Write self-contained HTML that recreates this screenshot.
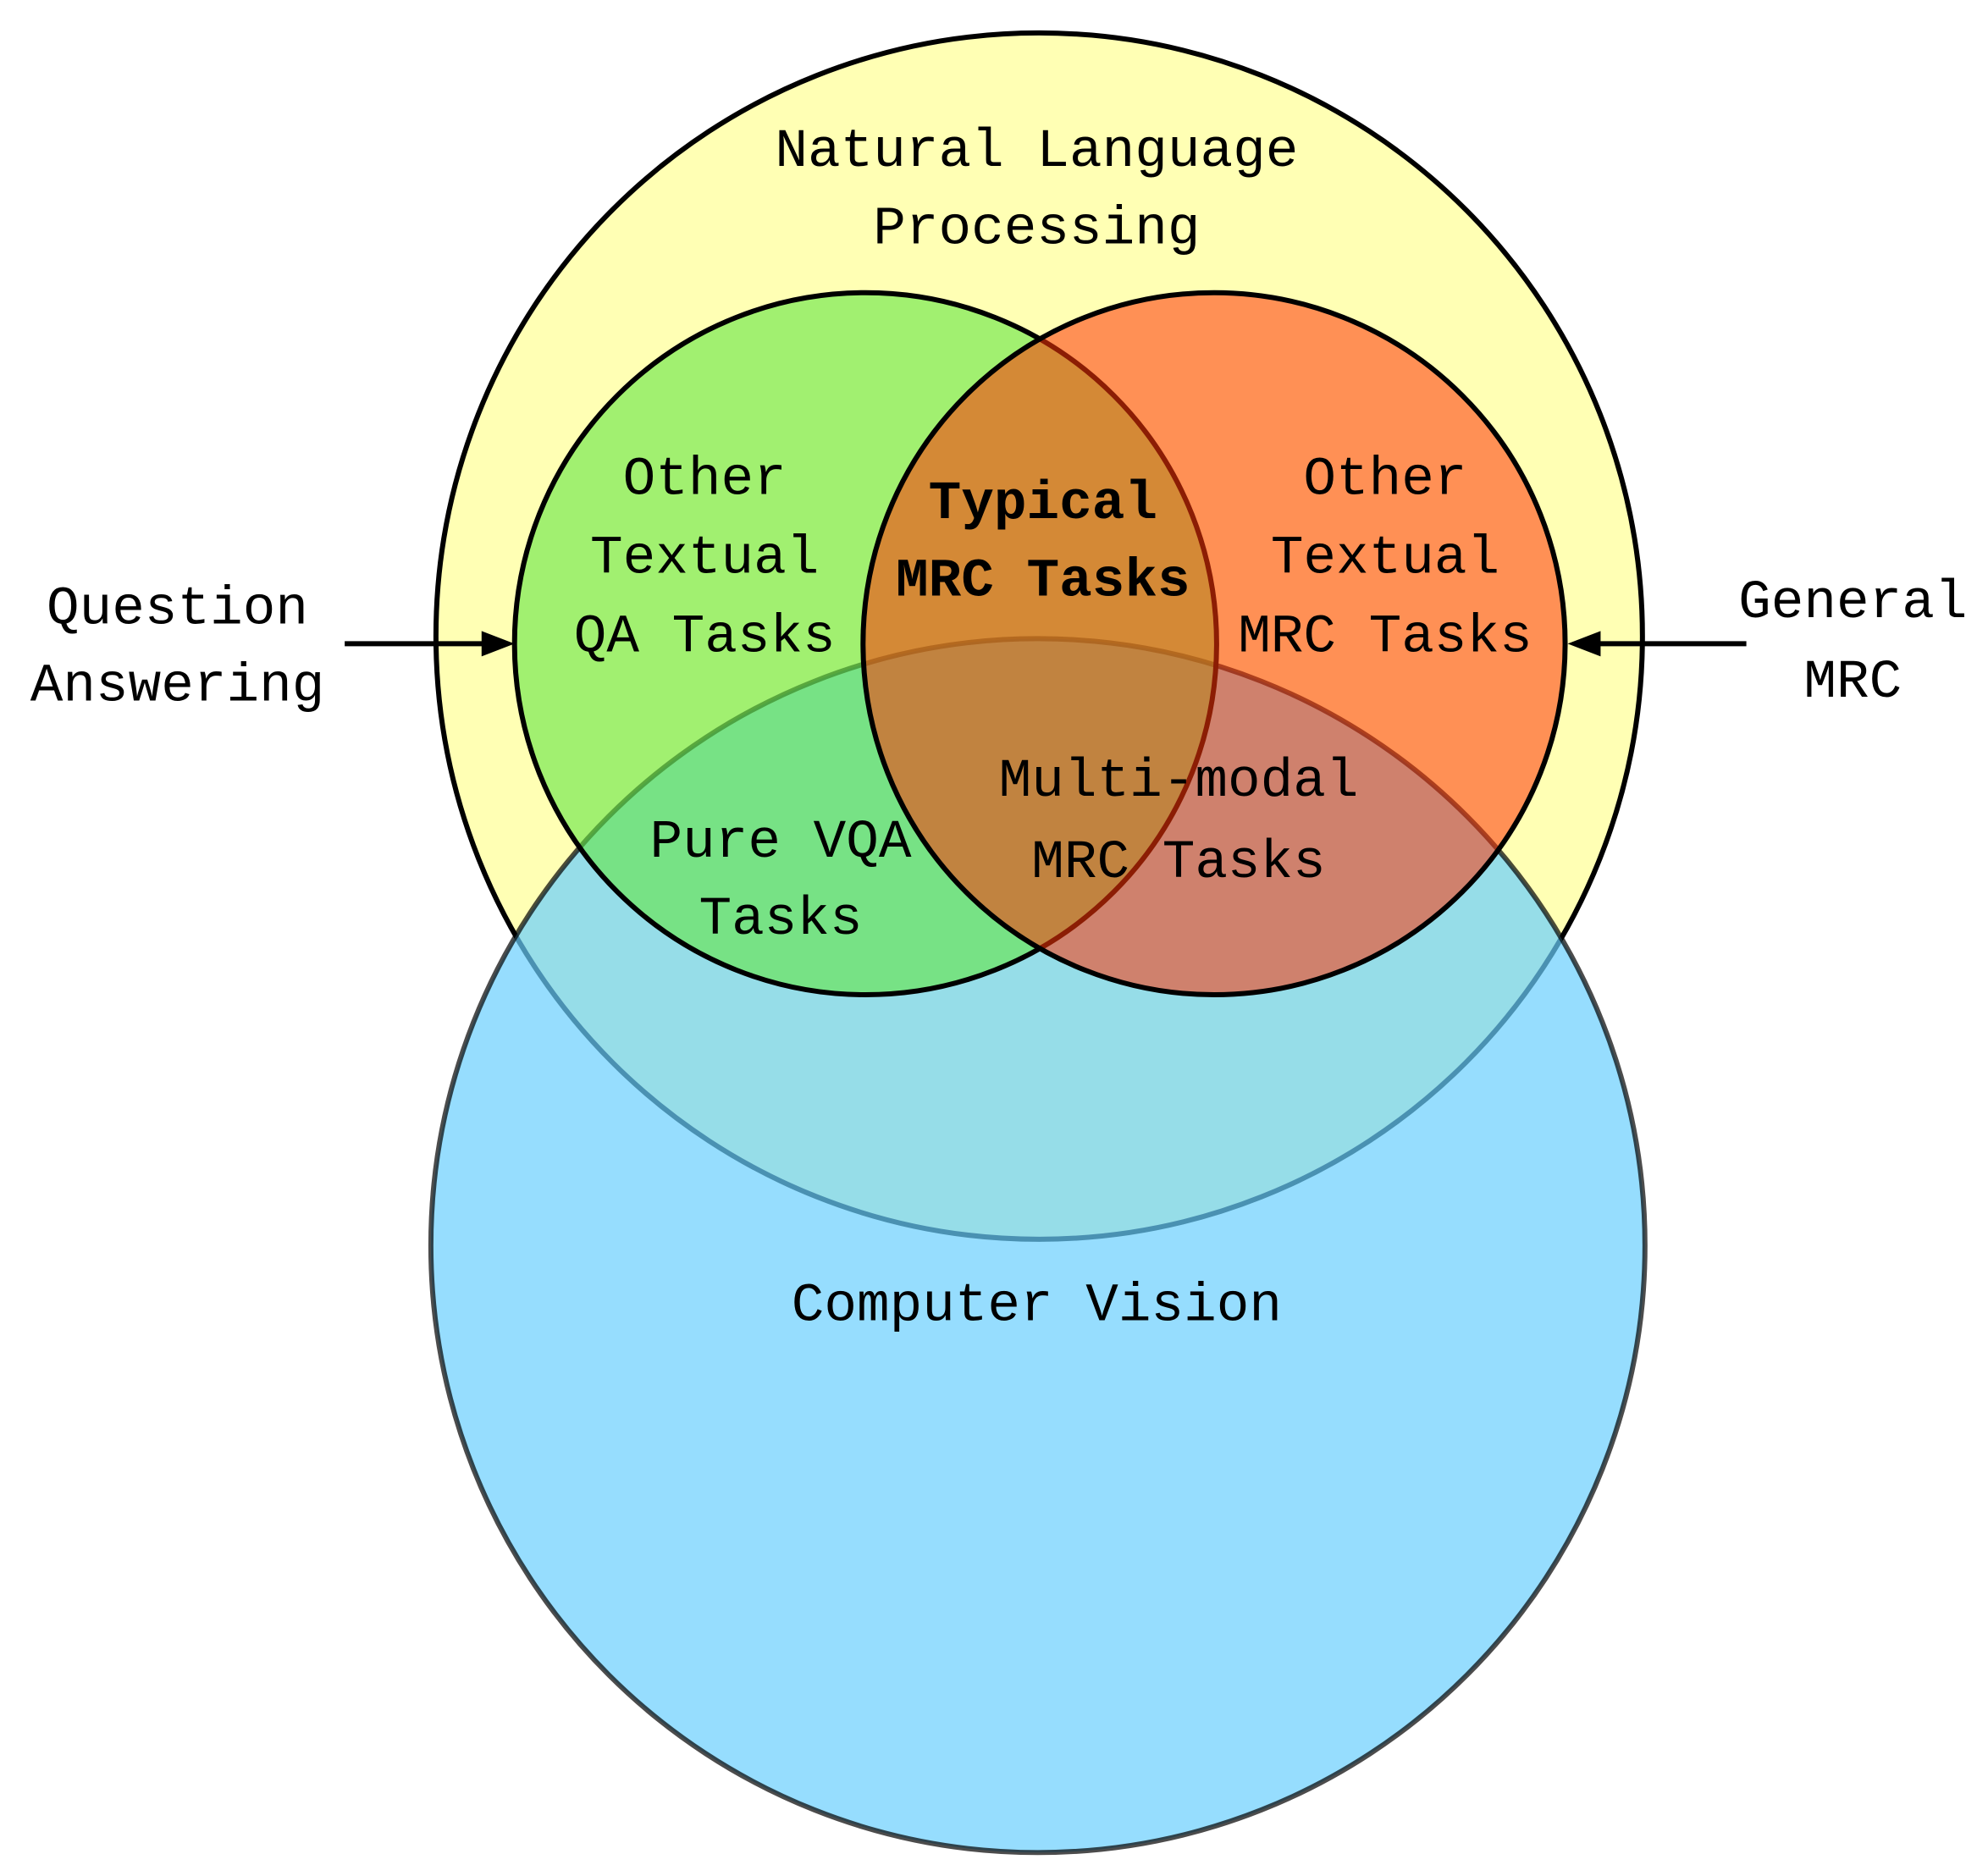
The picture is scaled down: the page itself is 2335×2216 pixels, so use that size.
<!DOCTYPE html>
<html><head><meta charset="utf-8"><style>
html,body{margin:0;padding:0;background:#fff;}
svg{display:block;}
text{font-family:"Liberation Mono",monospace;font-size:43px;fill:#000;text-anchor:middle;}
</style></head><body>
<svg width="2335" height="2216" viewBox="0 0 1560 1480.5" preserveAspectRatio="none" xmlns="http://www.w3.org/2000/svg">
<circle cx="820" cy="502" r="476" fill="#ffffb4" stroke="#000" stroke-width="4"/>
<circle cx="819" cy="983" r="479" fill="rgb(106,206,254)" fill-opacity="0.7" stroke="#000" stroke-opacity="0.7" stroke-width="4"/>
<circle cx="683" cy="508" r="277" fill="rgb(98,230,67)" fill-opacity="0.6" stroke="#000" stroke-width="4"/>
<circle cx="958" cy="508" r="277" fill="rgb(255,53,7)" fill-opacity="0.55" stroke="#000" stroke-width="4"/>
<circle cx="683" cy="508" r="277" fill="none" stroke="rgb(120,20,0)" stroke-opacity="0" stroke-width="4"/>
<line x1="272" y1="508" x2="385" y2="508" stroke="#000" stroke-width="4"/>
<polygon points="406,508 380,498 380,518" fill="#000"/>
<line x1="1378" y1="508" x2="1258" y2="508" stroke="#000" stroke-width="4"/>
<polygon points="1237,508 1263,498 1263,518" fill="#000"/>
<text x="818" y="131">Natural Language</text>
<text x="818" y="192">Processing</text>
<text x="556" y="390">Other</text>
<text x="556" y="452">Textual</text>
<text x="556" y="514">QA Tasks</text>
<text x="823" y="409" font-weight="bold">Typical</text>
<text x="823" y="470" font-weight="bold">MRC Tasks</text>
<text x="1093" y="390">Other</text>
<text x="1093" y="452">Textual</text>
<text x="1093" y="514">MRC Tasks</text>
<text x="140" y="492">Question</text>
<text x="140" y="553">Answering</text>
<text x="1462" y="487">General</text>
<text x="1462" y="550">MRC</text>
<text x="616" y="676">Pure VQA</text>
<text x="616" y="737">Tasks</text>
<text x="930" y="628">Multi-modal</text>
<text x="930" y="692">MRC Tasks</text>
<text x="818" y="1042">Computer Vision</text>
</svg>
</body></html>
